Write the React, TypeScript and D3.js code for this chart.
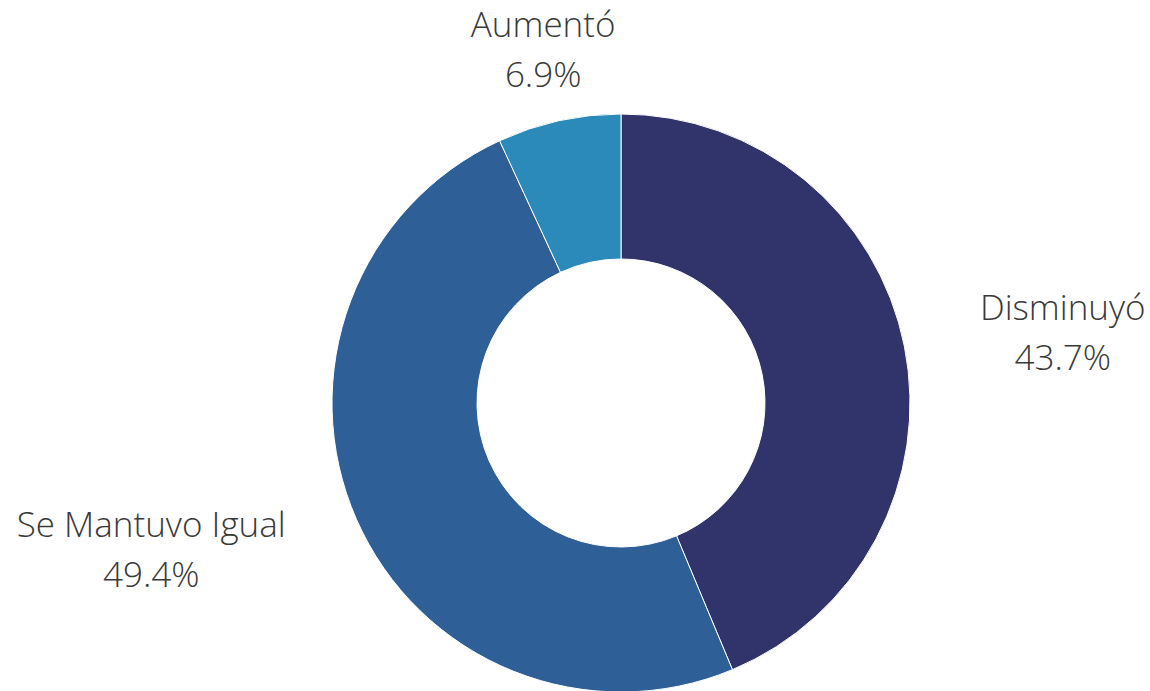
import React, { useLayoutEffect, useRef, useState } from "react";
import * as d3 from "d3";

const categories = ["Disminuyó", "Se Mantuvo Igual", "Aumentó"];
const values = [43.7, 49.4, 6.9];
const colors = ["#31336b", "#2e5f97", "#2b8aba"];

const W = 1150;
const H = 691;
const cx = 621;
const cy = 403;
const outerR = 289;
const innerR = 144;
const labelR = 362;
const gap = 4;

export default function App() {
  const pie = d3.pie<number>().sort(null).value((d) => d)(values);
  const arc = d3.arc<d3.PieArcDatum<number>>().innerRadius(innerR).outerRadius(outerR);
  const refs = useRef<(SVGTextElement | null)[]>([]);
  const [widths, setWidths] = useState<number[]>(values.map(() => 0));

  useLayoutEffect(() => {
    const w = refs.current.map((el) => (el ? el.getBBox().width : 0));
    setWidths(w);
  }, []);

  return (
    <svg
      width={W}
      height={H}
      style={{ position: "absolute", left: 0, top: 0, display: "block" }}
      fontFamily="'Open Sans', sans-serif"
    >
      <rect width={W} height={H} fill="#ffffff" />
      <g transform={`translate(${cx},${cy})`}>
        {pie.map((p, i) => (
          <path key={i} d={arc(p) || ""} fill={colors[i]} stroke="#ffffff" strokeWidth={1} />
        ))}
        {pie.map((p, i) => {
          const a = (p.startAngle + p.endAngle) / 2;
          const s = Math.sin(a);
          const c = Math.cos(a);
          let x = labelR * s;
          const y = -labelR * c;
          const half = widths[i] / 2;
          if (Math.abs(s) >= 0.5) {
            x = s > 0 ? x + gap + half : x - gap - half;
          }
          return (
            <text
              key={"l" + i}
              ref={(el) => {
                refs.current[i] = el;
              }}
              x={x}
              y={y}
              textAnchor="middle"
              fontSize={35}
              fontWeight={300}
              fill="#3a3a3a"
            >
              <tspan x={x} dy={-12}>{categories[i]}</tspan>
              <tspan x={x} dy={50}>{values[i].toFixed(1) + "%"}</tspan>
            </text>
          );
        })}
      </g>
    </svg>
  );
}
